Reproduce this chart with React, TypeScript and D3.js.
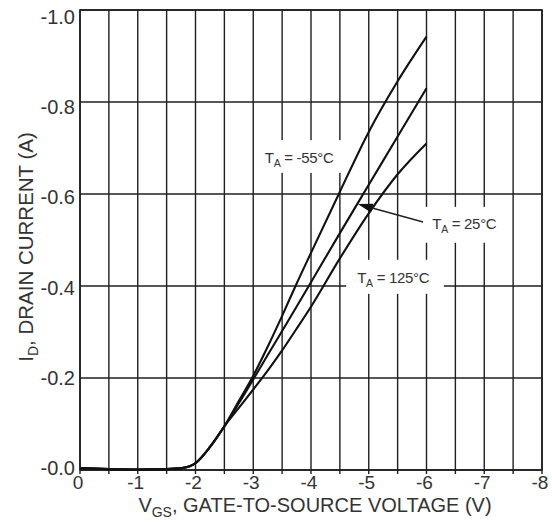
import React from "react";
import * as d3 from "d3";

const vgs = [0, -0.5, -1, -1.5, -1.75, -1.9, -2.0, -2.25, -2.5, -2.75, -3, -3.25, -3.5, -3.75, -4, -4.5, -5, -5.5, -6];
const idM55 = [-0.004, -0.002, -0.001, -0.002, -0.004, -0.008, -0.015, -0.05, -0.095, -0.15, -0.205, -0.268, -0.335, -0.405, -0.472, -0.605, -0.735, -0.845, -0.942];
const id25 = [-0.004, -0.002, -0.001, -0.002, -0.004, -0.008, -0.015, -0.05, -0.095, -0.145, -0.197, -0.25, -0.302, -0.355, -0.408, -0.515, -0.62, -0.725, -0.83];
const id125 = [-0.004, -0.002, -0.001, -0.002, -0.004, -0.008, -0.015, -0.05, -0.095, -0.135, -0.175, -0.216, -0.26, -0.307, -0.355, -0.46, -0.558, -0.643, -0.71];

const xTicks = [0, -1, -2, -3, -4, -5, -6, -7, -8];
const xGrid = d3.range(0, -8.01, -0.5);
const yTicks = [-1.0, -0.8, -0.6, -0.4, -0.2, -0.0];
const yTickLabels = ["-1.0", "-0.8", "-0.6", "-0.4", "-0.2", "-0.0"];

const labels = [
  { temp: "-55°C", v: -3.2, i: -0.668 },
  { temp: "25°C", v: -6.1, i: -0.524 },
  { temp: "125°C", v: -4.8, i: -0.407 },
];
const labelBoxes = [
  { v0: -3.08, v1: -4.55, i0: -0.717, i1: -0.646 },
  { v0: -5.9, v1: -7.35, i0: -0.572, i1: -0.494 },
  { v0: -4.61, v1: -6.3, i0: -0.457, i1: -0.383 },
];
const arrowFrom = { v: -5.94, i: -0.539 };
const arrowTo = { v: -4.81, i: -0.578 };

const FONT = "'Liberation Sans', Arial, Helvetica, sans-serif";
const LINE = "#1f1f1f";
const TEXT = "#333";

export default function App() {
  const W = 552, H = 522;
  const left = 80, right = 542, top = 10, bottom = 470;
  const x = d3.scaleLinear().domain([0, -8]).range([left, right]);
  const y = d3.scaleLinear().domain([0, -1]).range([bottom, top]);
  const yLab = d3.scaleLinear().domain([0, -1]).range([475, 24]);

  const line = d3
    .line<[number, number]>()
    .x((d) => x(d[0]))
    .y((d) => y(d[1]))
    .curve(d3.curveMonotoneX);

  const series = [idM55, id25, id125];

  const ax = x(arrowFrom.v), ay = y(arrowFrom.i);
  const tx = x(arrowTo.v), ty = y(arrowTo.i);
  const ang = Math.atan2(ty - ay, tx - ax);
  const headLen = 15, headW = 4.5;
  const bx = tx - headLen * Math.cos(ang), by = ty - headLen * Math.sin(ang);
  const px = -Math.sin(ang), py = Math.cos(ang);

  return (
    <svg width={W} height={H} style={{ position: "absolute", left: 0, top: 0, background: "#fff" }}>
      <rect x={0} y={0} width={W} height={H} fill="#fff" />
      {xGrid.map((v) => (
        <line key={"vx" + v} x1={x(v)} x2={x(v)} y1={top} y2={bottom + 4} stroke={LINE} strokeWidth={1.4} />
      ))}
      {yTicks.map((v) => (
        <line key={"hy" + v} x1={left} x2={right} y1={y(v)} y2={y(v)} stroke={LINE} strokeWidth={1.4} />
      ))}
      <rect x={left} y={top} width={right - left} height={bottom - top} fill="none" stroke={LINE} strokeWidth={1.6} />
      {labelBoxes.map((b, k) => (
        <rect
          key={"box" + k}
          x={x(b.v0)}
          y={y(b.i0)}
          width={x(b.v1) - x(b.v0)}
          height={y(b.i1) - y(b.i0)}
          fill="#fff"
        />
      ))}
      {series.map((s, k) => (
        <path
          key={"c" + k}
          d={line(vgs.map((v, j) => [v, s[j]] as [number, number])) || ""}
          fill="none"
          stroke="#111"
          strokeWidth={2.1}
        />
      ))}
      <line x1={ax} y1={ay} x2={bx} y2={by} stroke="#222" strokeWidth={1.5} />
      <polygon
        points={`${tx},${ty} ${bx + px * headW},${by + py * headW} ${bx - px * headW},${by - py * headW}`}
        fill="#111"
      />
      {labels.map((l, k) => (
        <text key={"l" + k} x={x(l.v)} y={y(l.i)} fontFamily={FONT} fontSize={15} fill={TEXT} letterSpacing={-0.3}>
          T<tspan fontSize={10.5} dy={4}>A</tspan>
          <tspan dy={-4}> = {l.temp}</tspan>
        </text>
      ))}
      {yTicks.map((v, k) => (
        <text key={"yt" + k} x={75} y={yLab(v)} textAnchor="end" fontFamily={FONT} fontSize={20} fill={TEXT}>
          {yTickLabels[k]}
        </text>
      ))}
      {xTicks.map((v) => (
        <text key={"xt" + v} x={x(v) - 2} y={489} textAnchor="middle" fontFamily={FONT} fontSize={19} fill={TEXT}>
          {v === 0 ? "0" : String(v)}
        </text>
      ))}
      <text x={315} y={512} textAnchor="middle" fontFamily={FONT} fontSize={20} fill={TEXT}>
        V<tspan fontSize={14} dy={5}>GS</tspan>
        <tspan dy={-5}>, GATE-TO-SOURCE VOLTAGE (V)</tspan>
      </text>
      <text
        transform={`translate(33, 247) rotate(-90)`}
        textAnchor="middle"
        fontFamily={FONT}
        fontSize={20.5}
        fill={TEXT}
      >
        I<tspan fontSize={14} dy={5}>D</tspan>
        <tspan dy={-5}>, DRAIN CURRENT (A)</tspan>
      </text>
    </svg>
  );
}
